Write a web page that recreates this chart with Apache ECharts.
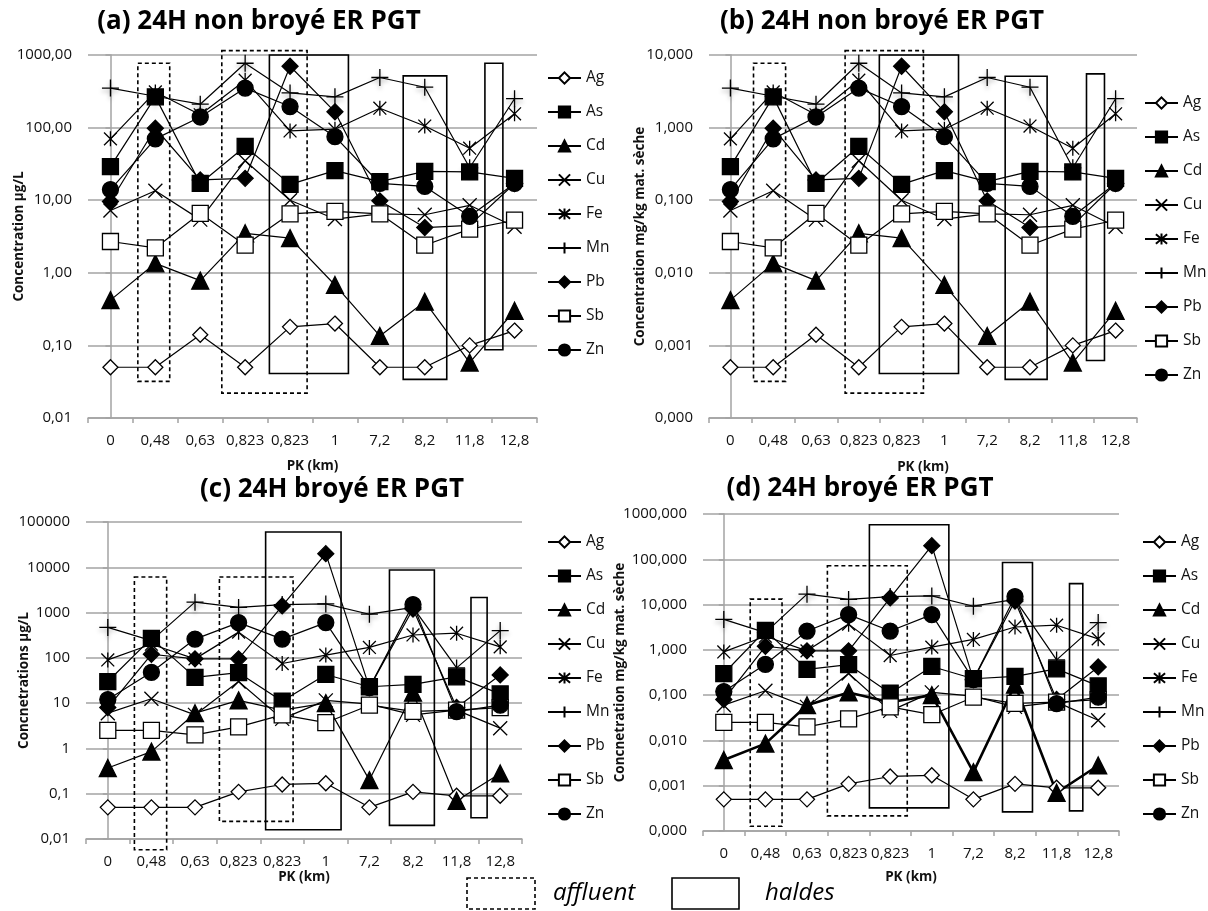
<!DOCTYPE html>
<html><head><meta charset="utf-8">
<script src="https://cdn.jsdelivr.net/npm/echarts@6/dist/echarts.min.js"></script>
<style>html,body{margin:0;padding:0;background:#fff}#c{width:1208px;height:911px}</style>
</head><body><div id="c"></div>
<script>
// ---------- data ----------
const categories = ['0','0,48','0,63','0,823','0,823','1','7,2','8,2','11,8','12,8'];
const elements = ['Ag','As','Cd','Cu','Fe','Mn','Pb','Sb','Zn'];

// (a) 24H non broyé, µg/L
const agA = [0.05, 0.05, 0.14, 0.05, 0.18, 0.2, 0.05, 0.05, 0.1, 0.16];
const asA = [29, 265, 17, 55, 16.5, 25.5, 18, 25, 24.5, 20];
const cdA = [0.42, 1.35, 0.78, 3.5, 3.0, 0.68, 0.135, 0.4, 0.058, 0.3];
const cuA = [7.2, 13.5, 5.4, 35, 10, 5.5, 6.5, 6.3, 8.5, 4.3];
const feA = [70, 310, 150, 450, 90, 95, 185, 105, 52, 155];
const mnA = [350, 270, 210, 770, 300, 265, 490, 360, 28, 250];
const pbA = [9.6, 98, 19, 20, 700, 165, 9.8, 4.2, 4.5, 17];
const sbA = [2.7, 2.2, 6.6, 2.4, 6.5, 7, 6.5, 2.4, 4, 5.3];
const znA = [14, 70, 140, 350, 195, 75, 17, 15.5, 6, 17];

// (b) 24H non broyé, mg/kg mat. sèche
const agB = [0.0005, 0.0005, 0.0014, 0.0005, 0.0018, 0.002, 0.0005, 0.0005, 0.001, 0.0016];
const asB = [0.29, 2.65, 0.17, 0.55, 0.165, 0.255, 0.18, 0.25, 0.245, 0.2];
const cdB = [0.0042, 0.0135, 0.0078, 0.035, 0.03, 0.0068, 0.00135, 0.004, 0.00058, 0.003];
const cuB = [0.072, 0.135, 0.054, 0.35, 0.1, 0.055, 0.065, 0.063, 0.085, 0.043];
const feB = [0.7, 3.1, 1.5, 4.5, 0.9, 0.95, 1.85, 1.05, 0.52, 1.55];
const mnB = [3.5, 2.7, 2.1, 7.7, 3.0, 2.65, 4.9, 3.6, 0.28, 2.5];
const pbB = [0.096, 0.98, 0.19, 0.2, 7.0, 1.65, 0.098, 0.042, 0.045, 0.17];
const sbB = [0.027, 0.022, 0.066, 0.024, 0.065, 0.07, 0.065, 0.024, 0.04, 0.053];
const znB = [0.14, 0.7, 1.4, 3.5, 1.95, 0.75, 0.17, 0.155, 0.06, 0.17];

// (c) 24H broyé, µg/L
const agC = [0.05, 0.05, 0.05, 0.11, 0.16, 0.17, 0.05, 0.11, 0.09, 0.09];
const asC = [30, 270, 37, 47, 11, 43, 23, 26, 38, 16];
const cdC = [0.37, 0.85, 6, 11.5, 7, 10, 0.2, 17, 0.07, 0.28];
const cuC = [6, 12.5, 5.5, 30, 4.5, 11.5, 9.5, 5.5, 7, 2.8];
const feC = [90, 200, 95, 370, 75, 115, 170, 320, 350, 175];
const mnC = [470, 240, 1700, 1300, 1500, 1550, 920, 1300, 60, 400];
const pbC = [8, 120, 95, 95, 1400, 20000, 22, 1200, 8, 42];
const sbC = [2.5, 2.5, 2.0, 3.0, 5.5, 3.7, 9, 6.6, 7, 8];
const znC = [12, 48, 260, 600, 260, 600, 22, 1500, 6.5, 9];

// (d) 24H broyé, mg/kg mat. sèche
const agD = [0.0005, 0.0005, 0.0005, 0.0011, 0.0016, 0.0017, 0.0005, 0.0011, 0.0009, 0.0009];
const asD = [0.30, 2.7, 0.37, 0.47, 0.11, 0.43, 0.23, 0.26, 0.38, 0.16];
const cdD = [0.0037, 0.0085, 0.06, 0.115, 0.07, 0.1, 0.002, 0.17, 0.0007, 0.0028];
const cuD = [0.06, 0.125, 0.055, 0.3, 0.045, 0.115, 0.095, 0.055, 0.07, 0.028];
const feD = [0.9, 2.0, 0.95, 3.7, 0.75, 1.15, 1.7, 3.2, 3.5, 1.75];
const mnD = [4.7, 2.4, 17, 13, 15, 15.5, 9.2, 13, 0.6, 4.0];
const pbD = [0.08, 1.2, 0.95, 0.95, 14, 200, 0.22, 12, 0.08, 0.42];
const sbD = [0.025, 0.025, 0.02, 0.03, 0.055, 0.037, 0.09, 0.066, 0.07, 0.08];
const znD = [0.12, 0.48, 2.6, 6.0, 2.6, 6.0, 0.22, 15, 0.065, 0.09];

// tick labels
const ticksA = ['0,01','0,10','1,00','10,00','100,00','1000,00'];
const ticksB = ['0,000','0,001','0,010','0,100','1,000','10,000'];
const ticksC = ['0,01','0,1','1','10','100','1000','10000','100000'];
const ticksD = ['0,000','0,001','0,010','0,100','1,000','10,000','100,000','1000,000'];

// boxes: [x from, x to (category index units), y low, y high]
const affluentA = [[0.61, 1.32, 0.032, 770], [2.48, 4.38, 0.022, 1150]];
const haldesA   = [[3.54, 5.30, 0.041, 1000], [6.52, 7.49, 0.034, 515], [8.34, 8.74, 0.087, 770]];
const affluentB = [[0.54, 1.29, 0.00032, 7.7], [2.68, 4.51, 0.00022, 11.5]];
const haldesB   = [[3.48, 5.33, 0.00041, 10], [6.42, 7.40, 0.00034, 5.1], [8.32, 8.74, 0.00062, 5.5]];
const affluentC = [[0.61, 1.35, 0.0058, 6100], [2.56, 4.25, 0.0245, 6100]];
const haldesC   = [[3.62, 5.35, 0.016, 60000], [6.46, 7.49, 0.02, 8700], [8.33, 8.70, 0.0295, 2150]];
const affluentD = [[0.635, 1.40, 0.000127, 13.2], [2.49, 4.41, 0.000216, 72]];
const haldesD   = [[3.50, 5.41, 0.000324, 580], [6.70, 7.42, 0.000264, 85], [8.31, 8.63, 0.000278, 29]];

// ---------- styling / layout ----------
const FONT = 'Open Sans';
const SYM = {
  Ag: { symbol: 'diamond', size: 15, fill: '#fff' },
  As: { symbol: 'rect', size: 16, fill: '#000' },
  Cd: { symbol: 'triangle', size: 17, fill: '#000' },
  Cu: { symbol: 'path://M0,0L12,12M12,0L0,12', size: 14, fill: '#000' },
  Fe: { symbol: 'path://M0,1L12,13M12,1L0,13M6,0L6,14', size: 15, fill: '#000' },
  Mn: { symbol: 'path://M7,0L7,14M0,7L14,7', size: 17, fill: '#000', shadow: true },
  Pb: { symbol: 'diamond', size: 16, fill: '#000' },
  Sb: { symbol: 'rect', size: 16, fill: '#fff' },
  Zn: { symbol: 'circle', size: 16, fill: '#000' }
};

const panels = [
  { key: 'a', title: '(a) 24H non broyé ER PGT', yName: 'Concentration µg/L',
    grid: { left: 88, top: 55, width: 449, height: 363 }, min: 0.01, max: 1000, ticks: ticksA,
    values: [agA, asA, cdA, cuA, feA, mnA, pbA, sbA, znA], affluent: affluentA, haldes: haldesA,
    titlePos: [259, 22], legendPos: [547, 70], yNameGap: 62, xNameGap: 41, cdWidth: 1.2 },
  { key: 'b', title: '(b) 24H non broyé ER PGT', yName: 'Concentration mg/kg mat. sèche',
    grid: { left: 709, top: 55, width: 428, height: 363 }, min: 0.0001, max: 10, ticks: ticksB,
    values: [agB, asB, cdB, cuB, feB, mnB, pbB, sbB, znB], affluent: affluentB, haldes: haldesB,
    titlePos: [882, 22], legendPos: [1144, 95], yNameGap: 62, xNameGap: 42, cdWidth: 1.2 },
  { key: 'c', title: '(c) 24H broyé ER PGT', yName: 'Concnetrations µg/L',
    grid: { left: 86, top: 522, width: 436, height: 317 }, min: 0.01, max: 100000, ticks: ticksC,
    values: [agC, asC, cdC, cuC, feC, mnC, pbC, sbC, znC], affluent: affluentC, haldes: haldesC,
    titlePos: [332, 490], legendPos: [547, 534], yNameGap: 55, xNameGap: 31, cdWidth: 1.2 },
  { key: 'd', title: '(d) 24H broyé ER PGT', yName: 'Concnetration mg/kg mat. sèche',
    grid: { left: 703, top: 514, width: 416, height: 317 }, min: 0.0001, max: 1000, ticks: ticksD,
    values: [agD, asD, cdD, cuD, feD, mnD, pbD, sbD, znD], affluent: affluentD, haldes: haldesD,
    titlePos: [860, 489], legendPos: [1142, 534], yNameGap: 76, xNameGap: 39, cdWidth: 2.6 }
];

const grids = [], xAxes = [], yAxes = [], series = [], legends = [], graphics = [];
const GRID_COLOR = '#a3a3a3';

function boxRender(dashed) {
  return function (params, api) {
    const p0 = api.coord([api.value(0), api.value(3)]);
    const p1 = api.coord([api.value(1), api.value(2)]);
    return {
      type: 'rect',
      shape: { x: p0[0], y: p0[1], width: p1[0] - p0[0], height: p1[1] - p0[1] },
      style: { fill: 'none', stroke: '#000', lineWidth: 1.6, lineDash: dashed ? [4, 3] : null }
    };
  };
}

panels.forEach((p, k) => {
  grids.push(Object.assign({}, p.grid));
  xAxes.push({
    type: 'category', gridIndex: k, data: categories, boundaryGap: true,
    name: 'PK (km)', nameLocation: 'middle', nameGap: p.xNameGap, nameMoveOverlap: false,
    nameTextStyle: { fontFamily: FONT, fontSize: 13.5, fontWeight: 'bold', color: '#111' },
    axisLine: { show: true, lineStyle: { color: GRID_COLOR, width: 1.5 } },
    axisTick: { show: true, length: 5, alignWithLabel: false, interval: 0, lineStyle: { color: GRID_COLOR, width: 1.5 } },
    axisLabel: { interval: 0, margin: 15, fontFamily: FONT, fontSize: 15, color: '#111', hideOverlap: false },
    splitLine: { show: false }
  });
  xAxes.push({ type: 'value', gridIndex: k, min: -0.5, max: 9.5, show: false });
  const decades = Math.round(Math.log10(p.max) - Math.log10(p.min));
  const base = Math.round(Math.log10(p.min));
  const ticks = p.ticks;
  yAxes.push({
    type: 'log', logBase: 10, gridIndex: k, min: p.min, max: p.max, splitNumber: decades,
    name: p.yName, nameLocation: 'middle', nameGap: p.yNameGap, nameRotate: 90, nameMoveOverlap: false,
    nameTextStyle: { fontFamily: FONT, fontSize: 13.5, fontWeight: 'bold', color: '#111' },
    axisLine: { show: true, lineStyle: { color: GRID_COLOR, width: 1.5 } },
    axisTick: { show: true, length: 5, lineStyle: { color: GRID_COLOR, width: 1.5 } },
    minorTick: { show: false }, minorSplitLine: { show: false },
    splitLine: { show: true, lineStyle: { color: GRID_COLOR, width: 1.5 } },
    axisLabel: {
      margin: 16, fontFamily: FONT, fontSize: 15, color: '#111',
      formatter: v => ticks[Math.round(Math.log10(v)) - base] || ''
    }
  });
  const names = [];
  elements.forEach((el, i) => {
    const s = SYM[el];
    const nm = el + '|' + p.key;
    names.push(nm);
    const itemStyle = { color: s.fill, borderColor: '#000', borderWidth: 1.3 };
    if (s.shadow) {
      itemStyle.shadowColor = 'rgba(0,0,0,0.35)';
      itemStyle.shadowBlur = 4;
      itemStyle.shadowOffsetY = 3;
    }
    series.push({
      type: 'line', name: nm, xAxisIndex: k * 2, yAxisIndex: k,
      data: p.values[i],
      symbol: s.symbol, symbolSize: s.size, symbolKeepAspect: true, showAllSymbol: true,
      lineStyle: { color: '#000', width: el === 'Cd' ? p.cdWidth : 1.2 },
      itemStyle: itemStyle,
      emphasis: { disabled: true }, animation: false, z: 3
    });
  });
  series.push({
    type: 'custom', name: 'affluent', xAxisIndex: k * 2 + 1, yAxisIndex: k,
    data: p.affluent, encode: { x: [0, 1], y: [2, 3] }, renderItem: boxRender(true),
    clip: false, silent: true, z: 5, animation: false
  });
  series.push({
    type: 'custom', name: 'haldes', xAxisIndex: k * 2 + 1, yAxisIndex: k,
    data: p.haldes, encode: { x: [0, 1], y: [2, 3] }, renderItem: boxRender(false),
    clip: false, silent: true, z: 5, animation: false
  });
  legends.push({
    orient: 'vertical', left: p.legendPos[0], top: p.legendPos[1], padding: 0,
    itemWidth: 33, itemHeight: 14, itemGap: 18, selectedMode: false,
    data: names, formatter: n => n.split('|')[0],
    textStyle: { fontFamily: FONT, fontSize: 15.5, color: '#111' }
  });
  graphics.push({
    type: 'text', x: p.titlePos[0], y: p.titlePos[1], silent: true,
    style: { text: p.title, textAlign: 'center', textVerticalAlign: 'middle',
      font: 'bold 26px "' + FONT + '"', fill: '#000' }
  });
});

// bottom key
graphics.push(
  { type: 'rect', shape: { x: 467, y: 878, width: 68, height: 31 }, silent: true,
    style: { fill: 'none', stroke: '#000', lineWidth: 1.6, lineDash: [4, 3] } },
  { type: 'text', x: 553, y: 893, silent: true,
    style: { text: 'affluent', textVerticalAlign: 'middle', font: 'italic 24px "' + FONT + '"', fill: '#000' } },
  { type: 'rect', shape: { x: 672, y: 878, width: 67, height: 31 }, silent: true,
    style: { fill: 'none', stroke: '#000', lineWidth: 1.6 } },
  { type: 'text', x: 765, y: 893, silent: true,
    style: { text: 'haldes', textVerticalAlign: 'middle', font: 'italic 24px "' + FONT + '"', fill: '#000' } }
);

const chart = echarts.init(document.getElementById('c'), null, { renderer: 'canvas' });
chart.setOption({
  backgroundColor: '#fff',
  animation: false,
  grid: grids, xAxis: xAxes, yAxis: yAxes, series: series, legend: legends,
  graphic: graphics
});
</script></body></html>
